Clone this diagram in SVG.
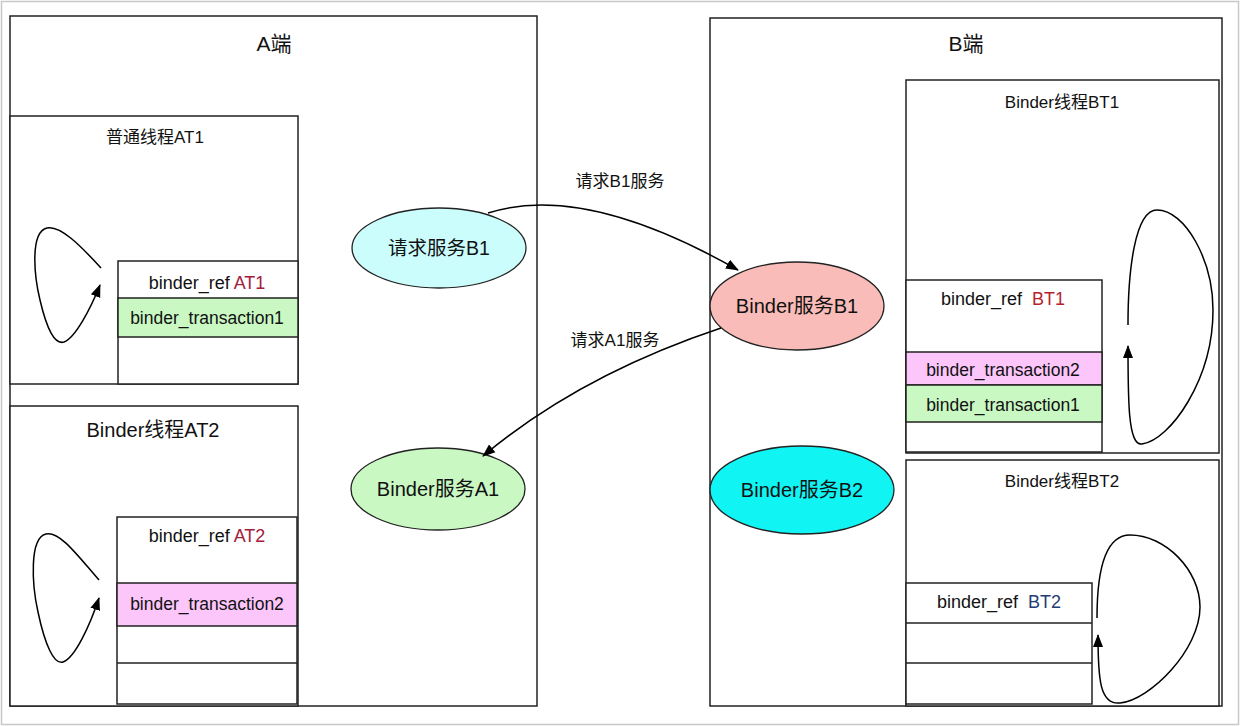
<svg xmlns="http://www.w3.org/2000/svg" width="1240" height="726" viewBox="0 0 1240 726">
<defs>
<style>
.box{fill:#fff;stroke:#222;stroke-width:1.5}
.row{stroke:#222;stroke-width:1.5}
.green{fill:#c9f8c3}
.pink{fill:#fcc6fb}
.t{font-family:"Liberation Sans","Noto Sans CJK SC",sans-serif;fill:#111;text-anchor:middle}
.edge{fill:none;stroke:#000;stroke-width:1.5}
.red{fill:#a3203a}
.red2{fill:#b5232f}
.blue{fill:#1f3d73}
.ell{stroke:#222;stroke-width:1.3}
</style>
<marker id="arr" markerUnits="userSpaceOnUse" markerWidth="14" markerHeight="12" refX="12" refY="5" orient="auto" viewBox="0 0 14 10">
<path d="M0,0 L13,5 L0,10 Z" fill="#000"/>
</marker>
</defs>
<rect x="0" y="0" width="1240" height="726" fill="#fff"/>
<rect x="1.5" y="1.5" width="1237" height="723" fill="none" stroke="#c8c8c8" stroke-width="1.5"/>

<g id="A">
<rect class="box" x="10" y="16" width="527" height="690"/>
<text class="t" x="274" y="51" font-size="21">A端</text>
</g>
<g id="B">
<rect class="box" x="710" y="18" width="512" height="688"/>
<text class="t" x="966" y="51" font-size="21">B端</text>
</g>

<g id="AT1">
<rect class="box" x="10" y="116" width="288" height="268"/>
<text class="t" x="155" y="143" font-size="17">普通线程AT1</text>
<rect class="box" x="118" y="261" width="180" height="123"/>
<rect class="row green" x="118" y="298" width="180" height="39"/>
<text class="t" x="207" y="289" font-size="18">binder_ref <tspan class="red">AT1</tspan></text>
<text class="t" x="207" y="324" font-size="17.5">binder_transaction1</text>
</g>

<g id="AT2">
<rect class="box" x="10" y="406" width="288" height="300"/>
<text class="t" x="153" y="437" font-size="20">Binder线程AT2</text>
<rect class="box" x="117" y="517" width="180" height="187"/>
<rect class="row pink" x="117" y="583" width="180" height="43"/>
<line class="row" x1="117" y1="663" x2="297" y2="663"/>
<text class="t" x="207" y="542" font-size="18">binder_ref <tspan class="red">AT2</tspan></text>
<text class="t" x="207" y="610" font-size="17.5">binder_transaction2</text>
</g>

<g id="BT1">
<rect class="box" x="906" y="80" width="313" height="373"/>
<text class="t" x="1062" y="108" font-size="17">Binder线程BT1</text>
<rect class="box" x="906" y="280" width="196" height="172"/>
<rect class="row pink" x="906" y="352" width="196" height="33"/>
<rect class="row green" x="906" y="385" width="196" height="37"/>
<text class="t" x="1003" y="305" font-size="18" xml:space="preserve">binder_ref  <tspan class="red2">BT1</tspan></text>
<text class="t" x="1003" y="376" font-size="17.5">binder_transaction2</text>
<text class="t" x="1003" y="411" font-size="17.5">binder_transaction1</text>
</g>

<g id="BT2">
<rect class="box" x="906" y="460" width="313" height="246"/>
<text class="t" x="1062" y="487" font-size="17">Binder线程BT2</text>
<rect class="box" x="906" y="583" width="186" height="121"/>
<line class="row" x1="906" y1="623" x2="1092" y2="623"/>
<line class="row" x1="906" y1="663" x2="1092" y2="663"/>
<text class="t" x="999" y="608" font-size="18" xml:space="preserve">binder_ref  <tspan class="blue">BT2</tspan></text>
</g>

<g id="reqB1">
<ellipse class="ell" cx="439" cy="248" rx="87" ry="40" fill="#cbfdfd"/>
<text class="t" x="439" y="255" font-size="19.5">请求服务B1</text>
</g>
<g id="svcB1">
<ellipse class="ell" cx="797" cy="306" rx="87" ry="44" fill="#fabcb8"/>
<text class="t" x="797" y="313" font-size="20">Binder服务B1</text>
</g>
<g id="svcA1">
<ellipse class="ell" cx="438" cy="489" rx="87" ry="41" fill="#c9f8c3"/>
<text class="t" x="438" y="496" font-size="20">Binder服务A1</text>
</g>
<g id="svcB2">
<ellipse class="ell" cx="802" cy="490" rx="92" ry="44" fill="#10f4f4"/>
<text class="t" x="802" y="497" font-size="20">Binder服务B2</text>
</g>

<g id="connectors">
<path class="edge" d="M488,213 C560,190 650,220 738,270" marker-end="url(#arr)"/>
<text class="t" x="620" y="187" font-size="17">请求B1服务</text>
<path class="edge" d="M721,328 Q580,375 483,456" marker-end="url(#arr)"/>
<text class="t" x="615" y="346" font-size="17">请求A1服务</text>
<path class="edge" d="M101,268 C80,245 60,225 47,228 C30,232 34,275 40,300 C47,330 55,345 64,342 C75,338 90,310 100,285" marker-end="url(#arr)"/>
<path class="edge" d="M99,580 C78,556 60,531 46,534 C29,538 32,585 38,612 C45,645 54,665 63,662 C75,658 90,625 99,598" marker-end="url(#arr)"/>
<path class="edge" d="M1128,325 C1128,270 1135,210 1157,210 C1185,210 1213,260 1213,310 C1213,380 1170,440 1142,444 C1128,446 1128,400 1128,346" marker-end="url(#arr)"/>
<path class="edge" d="M1097,618 C1097,570 1105,535 1130,535 C1165,535 1200,570 1200,607 C1200,650 1150,700 1120,703 C1100,705 1098,680 1098,635" marker-end="url(#arr)"/>
</g>
</svg>
